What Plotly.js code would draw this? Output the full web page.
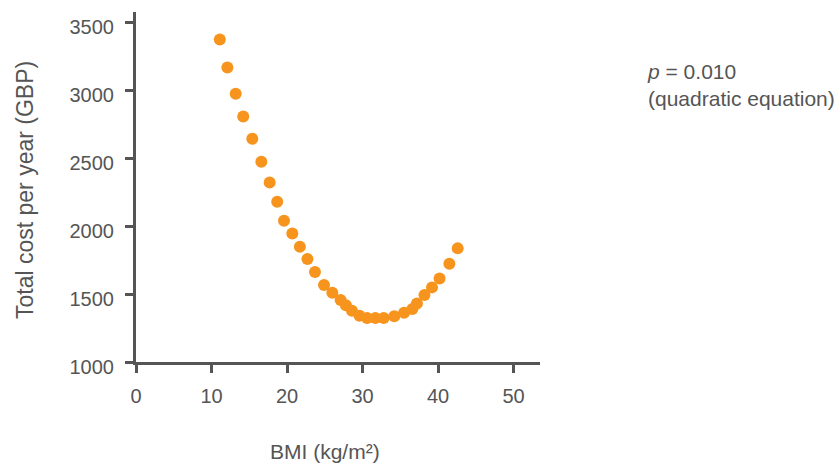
<!DOCTYPE html>
<html>
<head>
<meta charset="utf-8">
<script src="https://cdn.plot.ly/plotly-3.0.1.min.js"></script>
<style>html,body{margin:0;padding:0;background:#fff;}#chart{width:838px;height:463px;}</style>
</head>
<body>
<div id="chart"></div>
<script>
// BMI values (kg/m^2)
const bmi = [11.1, 12.1, 13.2, 14.2, 15.4, 16.6, 17.7, 18.7, 19.6, 20.7, 21.7, 22.7, 23.7, 24.9, 26.0, 27.1, 27.8, 28.6, 29.6, 30.6, 31.7, 32.8, 34.2, 35.5, 36.6, 37.2, 38.2, 39.2, 40.2, 41.5, 42.6];
// Total cost per year (GBP)
const cost = [3373, 3167, 2973, 2807, 2642, 2473, 2321, 2179, 2039, 1946, 1848, 1757, 1662, 1566, 1510, 1456, 1417, 1377, 1340, 1324, 1324, 1324, 1336, 1363, 1390, 1431, 1493, 1549, 1615, 1723, 1836];
const xTicks = [0, 10, 20, 30, 40, 50];
const yTicks = [1000, 1500, 2000, 2500, 3000, 3500];
const xTitle = 'BMI (kg/m²)';
const yTitle = 'Total cost per year (GBP)';
const noteText = '<i>p</i> = 0.010<br>(quadratic equation)';

const axisColor = '#555555';
const textColor = '#555555';
const fontFam = 'Liberation Sans, Arial, sans-serif';

const trace = {
  x: bmi, y: cost, type: 'scatter', mode: 'markers',
  marker: {size: 12, color: '#F7941D', line: {width: 0}},
  hoverinfo: 'skip'
};

const layout = {
  width: 838, height: 463,
  margin: {l: 136, r: 298, t: 12, b: 101, pad: 0},
  paper_bgcolor: '#ffffff', plot_bgcolor: '#ffffff',
  showlegend: false,
  font: {family: fontFam, size: 20, color: textColor},
  xaxis: {
    range: [0, 53.5], tickvals: xTicks, ticktext: xTicks.map(String),
    ticks: 'outside', ticklen: 8, tickwidth: 3, tickcolor: axisColor,
    showline: true, linewidth: 3, linecolor: axisColor,
    showgrid: false, zeroline: false, ticklabelstandoff: 6,
    tickfont: {family: fontFam, size: 20, color: textColor}
  },
  yaxis: {
    range: [1000, 3575], tickvals: yTicks, ticktext: yTicks.map(String),
    ticks: 'outside', ticklen: 8, tickwidth: 3, tickcolor: axisColor,
    showline: true, linewidth: 3, linecolor: axisColor,
    showgrid: false, zeroline: false, ticklabelstandoff: 7, ticklabelshift: 5,
    tickfont: {family: fontFam, size: 20, color: textColor}
  },
  annotations: [
    {text: xTitle, xref: 'x', yref: 'paper', x: 25, y: -0.257, xanchor: 'center', yanchor: 'middle',
     showarrow: false, font: {family: fontFam, size: 21, color: textColor}},
    {text: yTitle, xref: 'paper', yref: 'paper', x: -0.275, y: 0.491, xanchor: 'center', yanchor: 'middle',
     textangle: -90, showarrow: false, font: {family: fontFam, size: 23, color: textColor}},
    {text: noteText, xref: 'paper', yref: 'paper', x: 1.26, y: 0.791, xanchor: 'left', yanchor: 'middle',
     align: 'left', showarrow: false, font: {family: fontFam, size: 21, color: textColor}}
  ]
};

Plotly.newPlot('chart', [trace], layout, {displayModeBar: false, staticPlot: true});
</script>
</body>
</html>
